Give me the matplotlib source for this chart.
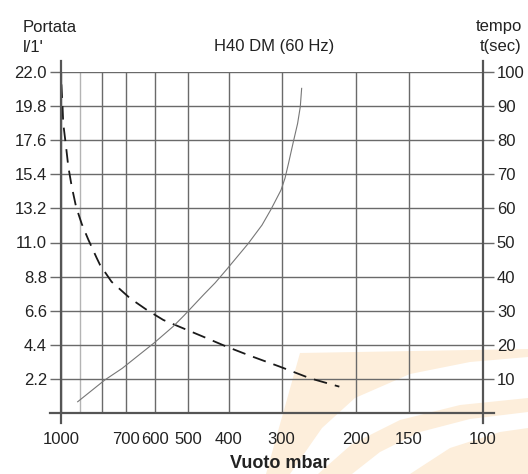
import numpy as np
import matplotlib
matplotlib.use('Agg')
from matplotlib import pyplot as plt
from matplotlib.patches import Polygon
from matplotlib.lines import Line2D

plt.rcParams['font.family'] = ['Liberation Sans', 'DejaVu Sans']

# vacuum (mbar) vs time to reach it (sec) - solid curve, right axis
vuoto_tempo = [913, 787, 716, 601, 542, 510, 460, 431, 405, 360, 334, 318, 301, 294.5, 289, 281.5, 275, 271, 269]
tempo = [3.3, 9.7, 13.1, 20.6, 25.4, 28.7, 34.6, 38.2, 42.1, 49.7, 55.1, 59.7, 65.4, 68.9, 73.2, 79.5, 84.9, 89.8, 95.2]

# vacuum (mbar) vs flow (l/1') - dashed curve, left axis
vuoto_portata = [998, 992, 988, 973, 961, 943, 921, 893, 862, 823, 808, 759, 686, 626, 572, 513, 460, 405, 357, 303, 257, 219]
portata = [21.2, 19.9, 18.7, 17.2, 15.9, 14.6, 13.3, 12.2, 11.2, 10.0, 9.55, 8.47, 7.4, 6.65, 6.0, 5.46, 4.92, 4.28, 3.7, 2.99, 2.24, 1.70]

x_ticks = [1000, 900, 800, 700, 600, 500, 400, 300, 200, 150, 100]
x_labels = ['1000', '', '', '700', '600', '500', '400', '300', '200', '150', '100']
y_left_ticks = [2.2 * i for i in range(1, 11)]
y_right_ticks = list(range(10, 101, 10))

W, H = 528, 474
fig = plt.figure(figsize=(W / 100, H / 100), dpi=100)


def px(x, y):
    return (x / W, 1 - y / H)


# faint orange logo watermark in the lower right
wm = '#fdeedb'
shapes = [
    [(300, 353), (528, 349), (528, 357), (470, 362), (410, 374), (355, 398), (322, 428), (290, 474), (266, 474)],
    [(318, 474), (352, 444), (400, 420), (460, 405), (528, 398), (528, 412), (470, 419), (420, 432), (380, 452), (352, 474)],
    [(410, 474), (450, 448), (500, 432), (528, 428), (528, 474)],
]
for s in shapes:
    fig.patches.append(Polygon([px(*p) for p in s], closed=True, transform=fig.transFigure,
                               facecolor=wm, edgecolor='none', zorder=-5))

ax = fig.add_axes([61 / W, 61 / H, 422 / W, 341 / H])
ax.set_facecolor('none')
ax.set_xscale('log')
ax.set_xlim(1000, 100)
ax.set_ylim(0, 22)
ax.minorticks_off()
ax.set_xticks(x_ticks)
ax.set_xticklabels(x_labels)
ax.set_yticks(y_left_ticks)
ax.set_yticklabels(['%.1f' % v for v in y_left_ticks])
ax.grid(True, color='#6a6a6a', lw=1.0)
for g, v in zip(ax.get_xgridlines(), x_ticks):
    if v == 900:
        g.set_color('#b4b4b4')
for sp in ax.spines.values():
    sp.set_visible(False)
ax.tick_params(axis='x', length=0, pad=14, labelsize=12, labelcolor='#222222')
ax.tick_params(axis='y', length=8, width=1.0, color='#6a6a6a', pad=2,
               labelsize=12, labelcolor='#222222')

ax.plot(vuoto_portata, portata, color='#1a1a1a', lw=1.3, dashes=[7.5, 4.5], zorder=3)

ax2 = ax.twinx()
ax2.set_facecolor('none')
ax2.set_ylim(0, 100)
ax2.set_yticks(y_right_ticks)
for sp in ax2.spines.values():
    sp.set_visible(False)
ax2.tick_params(axis='y', length=8, width=1.0, color='#6a6a6a', pad=2,
                labelsize=12, labelcolor='#222222')
ax2.plot(vuoto_tempo, tempo, color='#777777', lw=0.8, zorder=3)

# axis lines that run past the plot box
for (x0, y0), (x1, y1) in [((61, 61), (61, 423)), ((50, 413), (494, 413)), ((483, 61), (483, 423))]:
    a, b = px(x0, y0), px(x1, y1)
    fig.add_artist(Line2D([a[0], b[0]], [a[1], b[1]], transform=fig.transFigure,
                          color='#555555', lw=1.6, zorder=4))

txt = dict(color='#222222', fontsize=12)
fig.text(*px(23, 27), 'Portata', ha='left', va='center', **txt)
fig.text(*px(23, 47), "l/1'", ha='left', va='center', **txt)
fig.text(*px(522, 27), 'tempo', ha='right', va='center', **txt)
fig.text(*px(522, 47), 't(sec)', ha='right', va='center', **txt)
fig.text(*px(274, 47), 'H40 DM (60 Hz)', ha='center', va='center', **txt)
fig.text(*px(280, 463), 'Vuoto mbar', ha='center', va='center', color='#222222',
         fontsize=13, fontweight='bold')

fig.savefig('out.png', dpi=100)
